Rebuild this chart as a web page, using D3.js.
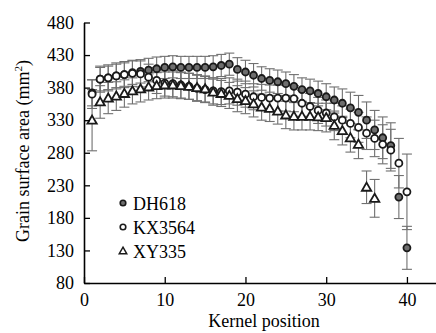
<!DOCTYPE html>
<html>
<head>
<meta charset="utf-8">
<script src="https://cdn.jsdelivr.net/npm/d3@7"></script>
<style>
  body { margin: 0; background: #fff; }
  text { font-family: "Liberation Serif", "Times New Roman", serif; }
</style>
</head>
<body>
<div id="chart"></div>
<script>
// Kernel positions
const kernels = [1,2,3,4,5,6,7,8,9,10,11,12,13,14,15,16,17,18,19,20,
                 21,22,23,24,25,26,27,28,29,30,31,32,33,34,35,36,37,38,39,40];

// DH618 means and SD
const dh618 = [372,393,395,398,400,403,405,407,409,411,412,411,411,411,411,412,414,416,408,404,
               399,394,391,389,386,382,377,375,371,366,361,356,349,342,330,315,303,291,212,134];
const dh618Sd = [20,18,18,18,18,18,18,18,18,17,17,17,17,17,17,17,17,17,18,18,
                 18,18,18,18,18,18,18,18,19,20,20,22,24,26,28,30,32,35,33,33];

// KX3564 means and SD
const kx3564 = [370,393,395,398,400,402,401,396,391,387,386,384,382,379,377,375,374,375,373,370,
                366,365,364,364,364,363,356,351,345,341,335,330,325,319,310,302,293,284,264,220];
const kx3564Sd = [22,20,20,20,20,20,20,20,20,20,20,20,20,20,20,20,20,20,20,20,
                  20,20,20,20,20,20,20,20,20,20,21,22,22,23,25,28,30,32,38,58];

// XY335 means and SD (kernels 1-36)
const xy335 = [330,358,364,367,371,375,378,381,383,384,384,383,382,380,378,373,371,368,363,360,
               355,350,348,344,338,336,336,336,335,334,322,314,303,293,227,210];
const xy335Sd = [47,25,24,22,21,20,20,20,20,20,20,20,20,20,20,20,20,20,20,20,
                 20,20,20,20,21,21,21,21,21,22,22,22,22,22,25,29];

const yTicks = [80,130,180,230,280,330,380,430,480];
const xTicks = [0,10,20,30,40];

const series = [
  { name: "DH618", values: dh618, sd: dh618Sd, shape: "circle", fill: "#6e6e6e" },
  { name: "KX3564", values: kx3564, sd: kx3564Sd, shape: "circle", fill: "#ffffff" },
  { name: "XY335", values: xy335, sd: xy335Sd, shape: "triangle", fill: "#ffffff" }
];

const W = 436, H = 333;
const svg = d3.select("#chart").append("svg")
  .attr("width", W).attr("height", H);

const x = d3.scaleLinear().domain([0, 43.6]).range([84, 436]);
const y = d3.scaleLinear().domain([80, 480]).range([283, 22.5]);

// error bars first
series.forEach(s => {
  const pts = s.values.map((v, i) => ({ k: kernels[i], v: v, sd: s.sd[i] }));
  const g = svg.append("g").attr("stroke", "#707070").attr("stroke-width", 1.1).attr("fill", "none");
  g.selectAll("line.bar").data(pts).enter().append("line")
    .attr("x1", d => x(d.k)).attr("x2", d => x(d.k))
    .attr("y1", d => y(d.v - d.sd)).attr("y2", d => y(d.v + d.sd));
  g.selectAll("line.top").data(pts).enter().append("line")
    .attr("x1", d => x(d.k) - 5).attr("x2", d => x(d.k) + 5)
    .attr("y1", d => y(d.v + d.sd)).attr("y2", d => y(d.v + d.sd));
  g.selectAll("line.bot").data(pts).enter().append("line")
    .attr("x1", d => x(d.k) - 5).attr("x2", d => x(d.k) + 5)
    .attr("y1", d => y(d.v - d.sd)).attr("y2", d => y(d.v - d.sd));
});

const tri = d3.symbol().type(d3.symbolTriangle).size(38);

// markers
series.forEach(s => {
  const pts = s.values.map((v, i) => ({ k: kernels[i], v: v }));
  const g = svg.append("g");
  if (s.shape === "circle") {
    g.selectAll("circle").data(pts).enter().append("circle")
      .attr("cx", d => x(d.k)).attr("cy", d => y(d.v)).attr("r", 3.5)
      .attr("fill", s.fill).attr("stroke", "#1a1a1a").attr("stroke-width", 1.8);
  } else {
    g.selectAll("path").data(pts).enter().append("path")
      .attr("d", tri)
      .attr("transform", d => `translate(${x(d.k)},${y(d.v) + 0.8})`)
      .attr("fill", s.fill).attr("stroke", "#1a1a1a").attr("stroke-width", 1.8);
  }
});

// axes
const xAxis = svg.append("g")
  .attr("transform", `translate(0,${y(80)})`)
  .call(d3.axisBottom(x).tickValues(xTicks).tickSizeInner(-6).tickSizeOuter(0).tickPadding(10));
const yAxis = svg.append("g")
  .attr("transform", `translate(${x(0)},0)`)
  .call(d3.axisLeft(y).tickValues(yTicks).tickSizeInner(-6).tickSizeOuter(0).tickPadding(10));

[xAxis, yAxis].forEach(a => {
  a.select(".domain").attr("stroke", "#000").attr("stroke-width", 1.6);
  a.selectAll(".tick line").attr("stroke", "#000").attr("stroke-width", 1.3);
  a.selectAll(".tick text").attr("fill", "#000")
    .style("font-family", "'Liberation Serif', serif").style("font-size", "18px");
});

// axis titles
svg.append("text")
  .attr("x", 264).attr("y", 327)
  .attr("text-anchor", "middle")
  .style("font-size", "18px")
  .text("Kernel position");

const yl = svg.append("text")
  .attr("transform", "translate(29,151) rotate(-90)")
  .attr("text-anchor", "middle")
  .style("font-size", "18px");
yl.append("tspan").text("Grain surface area (mm");
yl.append("tspan").attr("dy", -7).style("font-size", "11px").text("2");
yl.append("tspan").attr("dy", 7).text(")");

// legend
const legend = svg.selectAll(".legend").data(series).enter().append("g")
  .attr("class", "legend")
  .attr("transform", (d, i) => `translate(123,${203 + i * 24})`);

legend.each(function(d) {
  const g = d3.select(this);
  if (d.shape === "circle") {
    g.append("circle").attr("r", 2.8).attr("fill", d.fill)
      .attr("stroke", "#1a1a1a").attr("stroke-width", 1.6);
  } else {
    g.append("path").attr("d", d3.symbol().type(d3.symbolTriangle).size(24)())
      .attr("transform", "translate(0,0.5)")
      .attr("fill", d.fill).attr("stroke", "#1a1a1a").attr("stroke-width", 1.5);
  }
});

legend.append("text")
  .attr("x", 10).attr("y", 6.5)
  .style("font-size", "18px")
  .text(d => d.name);
</script>
</body>
</html>
